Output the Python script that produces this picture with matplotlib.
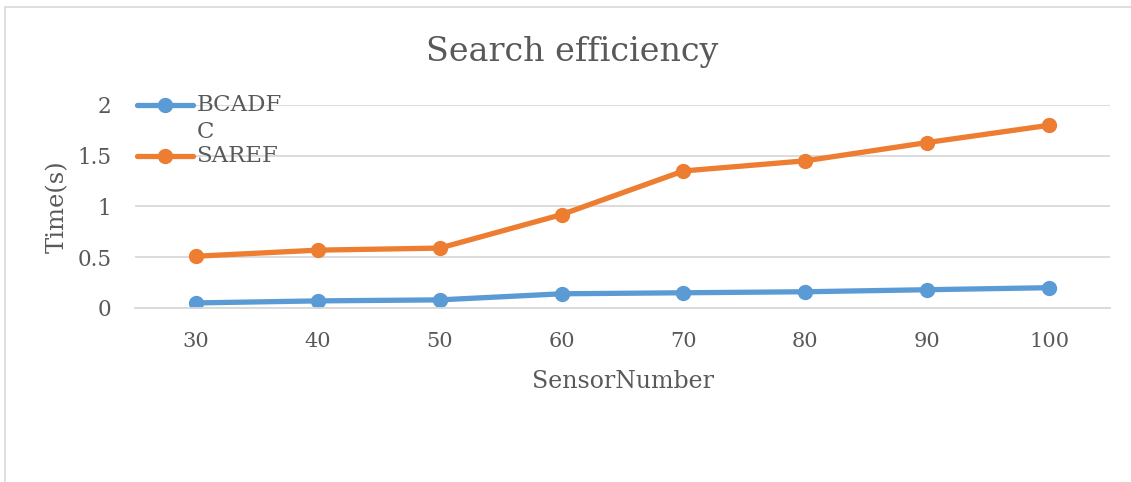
import matplotlib.pyplot as plt
from matplotlib.lines import Line2D
from matplotlib.patches import Rectangle

# data
sensor_numbers = [30, 40, 50, 60, 70, 80, 90, 100]
bcadfc = [0.05, 0.07, 0.08, 0.14, 0.15, 0.16, 0.18, 0.20]
saref = [0.51, 0.57, 0.59, 0.92, 1.35, 1.45, 1.63, 1.80]
y_ticks = [0, 0.5, 1, 1.5, 2]

blue = '#5B9BD5'
orange = '#ED7D31'
grid_c = '#D9D9D9'
text_c = '#595959'

plt.rcParams['font.family'] = ['DejaVu Serif']

fig = plt.figure(figsize=(11.31, 4.82), dpi=100)
ax = fig.add_axes([0.1194, 0.361, 0.862, 0.4212])

x = list(range(len(sensor_numbers)))
ax.plot(x, bcadfc, color=blue, lw=3.8, marker='o', ms=10, solid_capstyle='round')
ax.plot(x, saref, color=orange, lw=3.8, marker='o', ms=10, solid_capstyle='round')

ax.set_xlim(-0.5, len(x) - 0.5)
ax.set_ylim(0, 2)
ax.set_yticks(y_ticks)
ax.set_yticklabels(['0', '0.5', '1', '1.5', '2'])
ax.set_xticks(x)
ax.set_xticklabels([str(s) for s in sensor_numbers])
ax.grid(axis='y', color=grid_c, lw=1.3)
ax.set_axisbelow(True)
for s in ['top', 'right', 'left']:
    ax.spines[s].set_visible(False)
ax.spines['bottom'].set_color(grid_c)
ax.spines['bottom'].set_linewidth(1.3)
ax.tick_params(length=0, colors=text_c)
ax.tick_params(axis='x', pad=17, labelsize=15)
ax.tick_params(axis='y', pad=17, labelsize=15.5)

fig.text(572 / 1131, 1 - 52 / 482, 'Search efficiency', fontsize=24,
         color=text_c, ha='center', va='center')
ax.set_xlabel('SensorNumber', fontsize=17, color=text_c, labelpad=14)
ax.set_ylabel('Time(s)', fontsize=17.5, color=text_c, labelpad=6)

# legend drawn by hand so the wrapped label looks like the original
legend_items = [(1.0, blue, ['BCADF', 'C']), (0.75, orange, ['SAREF'])]
for yy, col, lines in legend_items:
    ax.add_line(Line2D([0.002, 0.0595], [yy, yy], transform=ax.transAxes,
                       color=col, lw=3.8, solid_capstyle='round', clip_on=False))
    ax.add_line(Line2D([0.031], [yy], transform=ax.transAxes, color=col,
                       marker='o', ms=10, clip_on=False))
    for i, lab in enumerate(lines):
        ax.text(0.063, yy - i * 0.133, lab, transform=ax.transAxes,
                fontsize=16.5, color=text_c, va='center')

# outer chart frame
fig.patches.append(Rectangle((5 / 1131, -0.1), 1.2, (482 - 7) / 482 + 0.1,
                             transform=fig.transFigure, fill=False,
                             ec=grid_c, lw=1.2))

fig.savefig('out.png', dpi=100)
